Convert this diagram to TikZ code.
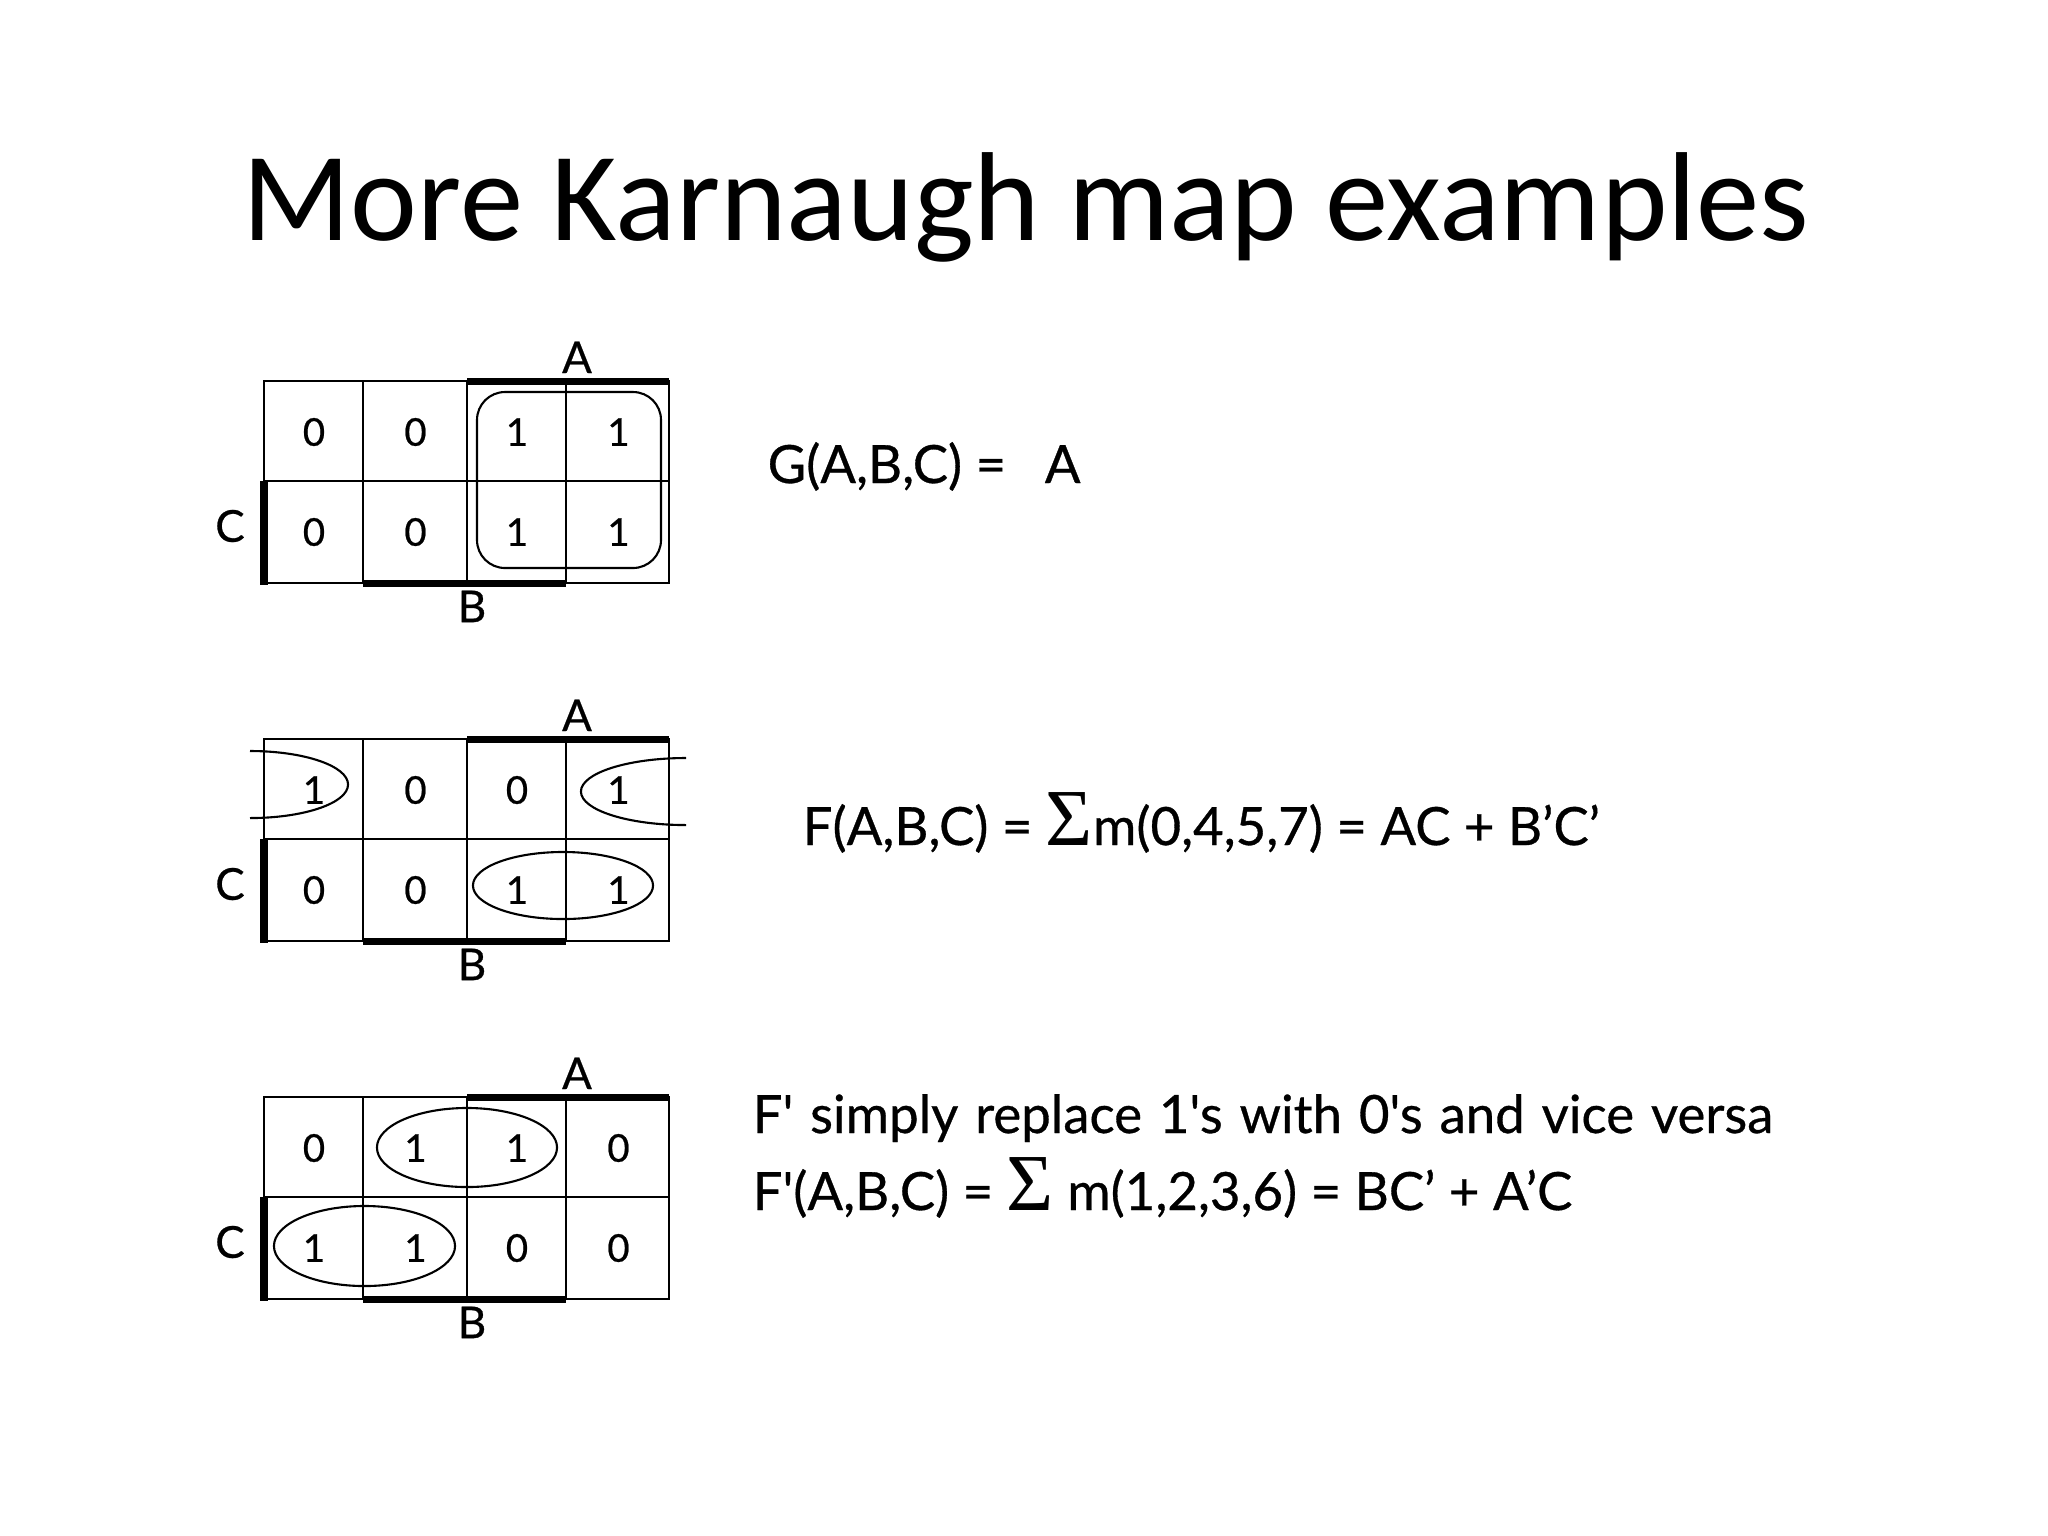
\documentclass[tikz,border=0pt]{standalone}
\usepackage{fontspec}
\setmainfont{Carlito}
\newfontfamily\handfont[FakeBold=0.6]{Lato}
\newfontfamily\sigmafont{Liberation Serif}
\usetikzlibrary{positioning}
\newcommand{\widespaces}{\spaceskip=1.25\fontdimen2\font\relax}
\tikzset{
    % Text
    title/.style={font=\fontsize{36pt}{40pt}\selectfont, anchor=base west, inner sep=0pt},
    eqn/.style={font=\handfont\fontsize{15pt}{18pt}\selectfont, anchor=base west, inner sep=0pt},
    cellnum/.style={font=\handfont\fontsize{10.9pt}{12pt}\selectfont, inner sep=0pt},
    varlabel/.style={font=\handfont\fontsize{12.5pt}{14pt}\selectfont, inner sep=0pt},
    % Lines
    gridline/.style={line width=0.7pt},
    varbar/.style={line width=2pt},
    loop/.style={line width=0.6pt}
}
\newcommand{\bigsum}{{\sigmafont\fontsize{23pt}{23pt}\selectfont Σ}}

\begin{document}
\begin{tikzpicture}[x=0.01cm, y=-0.01cm]
\useasboundingbox (0,0) rectangle (2048,1535);

\node[title] (title) at (242,240) {More Karnaugh map examples};

% the three maps, one below the other
\foreach \m/\top/\vals in {1/381/{0,0,1,1,0,0,1,1}, 2/739/{1,0,0,1,0,0,1,1}, 3/1097/{0,1,1,0,1,1,0,0}} {
    \draw[gridline] (264,\top) rectangle (669,\top+202);
    \draw[gridline] (264,\top+100) -- (669,\top+100);
    \foreach \xx in {363,467,566}
        \draw[gridline] (\xx,\top) -- (\xx,\top+202);
    \foreach \v [count=\i from 0] in \vals {
        \pgfmathtruncatemacro\col{mod(\i,4)}
        \pgfmathtruncatemacro\row{int(\i/4)}
        \node[cellnum] (m\m c\row\col) at (314+101.5*\col, \top+51+100*\row) {\v};
    }
    \draw[varbar] (467,\top) -- (669,\top);
    \draw[varbar] (363,\top+202) -- (566,\top+202);
    \draw[varbar] (264,\top+100) -- (264,\top+204);
    \node[varlabel, anchor=base] (m\m A) at (577,\top-8) {A};
    \node[varlabel, anchor=north] (m\m B) at (472,\top+209) {B};
    \node[varlabel] (m\m C) at (230,\top+145) {C};
}

% groups
\draw[loop, rounded corners=0.28cm] (477,392) rectangle (661,568);
\draw[loop] (250,751) arc[start angle=90, end angle=-90, x radius=0.98cm, y radius=0.335cm];
\draw[loop] (686,758) arc[start angle=90, end angle=270, x radius=1.05cm, y radius=0.335cm];
\draw[loop] (563,885.5) ellipse [x radius=0.9cm, y radius=0.335cm];
\draw[loop] (467,1147.5) ellipse [x radius=0.9cm, y radius=0.395cm];
\draw[loop] (364.5,1246) ellipse [x radius=0.905cm, y radius=0.4cm];

% expressions
\node[eqn] (geq) at (767,483) {G(A,B,C) =\hspace{11pt}A};
\node[eqn] (feq) at (802,845) {F(A,B,C) = \bigsum m(0,4,5,7) = AC + B’C’};
\node[eqn] (fnote) at (752,1133) {\widespaces F' simply replace 1's with 0's and vice versa};
\node[eqn] (fneq) at (752,1210) {F'(A,B,C) = \bigsum\ m(1,2,3,6) = BC’ + A’C};

\end{tikzpicture}
\end{document}
